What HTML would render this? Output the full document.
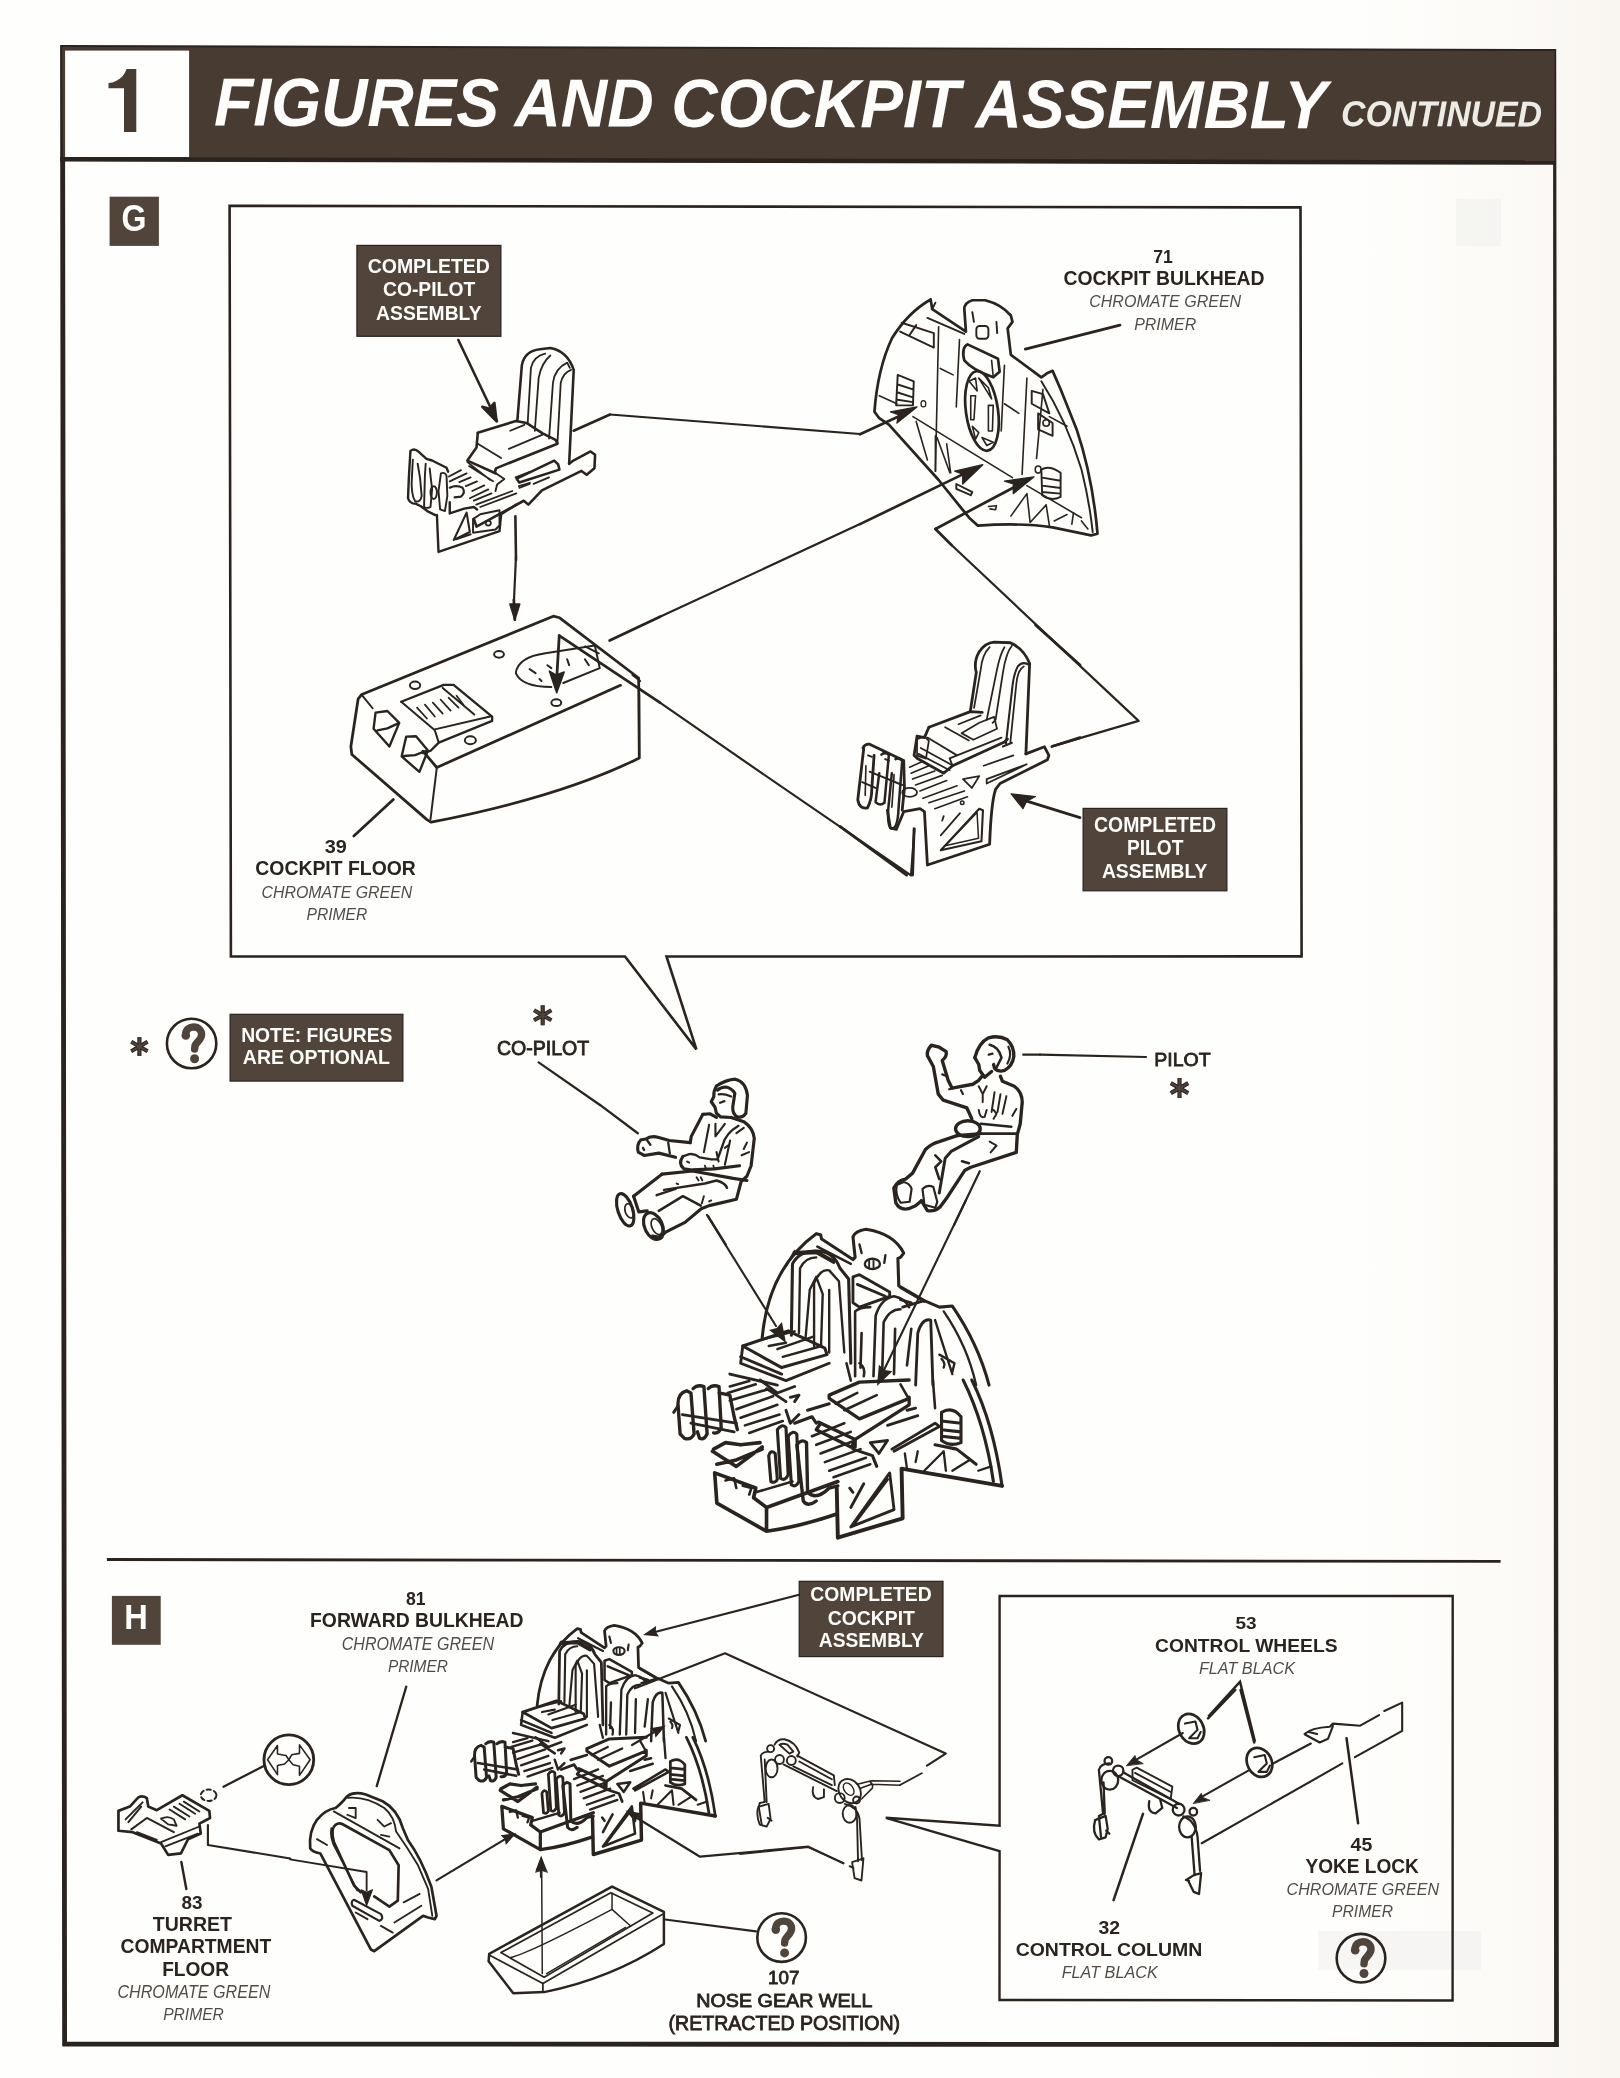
<!DOCTYPE html>
<html><head><meta charset="utf-8"><style>
html,body{margin:0;padding:0;background:#fefefc;overflow:hidden;}
svg{display:block;font-family:"Liberation Sans",sans-serif;will-change:transform;}
</style></head><body>
<svg width="1620" height="2078" viewBox="0 0 1620 2078">
<rect width="1620" height="2078" fill="#fefefc"/>
<defs><linearGradient id="wg" x1="0" x2="1" y1="0" y2="0"><stop offset="0" stop-color="#fefefc" stop-opacity="0"/><stop offset="1" stop-color="#f9f5f0"/></linearGradient></defs><rect x="1300" y="0" width="320" height="2078" fill="url(#wg)"/>
<rect x="1456" y="199" width="45" height="47" fill="#ededec" opacity="0.45"/>
<rect x="1318" y="1931" width="163" height="39" fill="#f1f0ee" opacity="0.6"/>
<path fill="#2a231e" fill-rule="evenodd" d="M60.1,45.1 L1556.2,49.1 L1558.9,2046.9 L62.2,2046.5 Z M65.1,161 L1553.1,164 L1554.1,2042 L67,2041.7 Z"/>
<path fill="#483c32" d="M62,47 L1554.5,51 L1554.5,163 L63,160 Z"/>
<path fill="#2a231e" d="M60.1,157 L1556,160.3 L1556,164.8 L60.1,161.5 Z"/>
<rect x="65.1" y="50.6" width="124" height="106.4" fill="#fefefc"/>
<path fill="#483c32" d="M124,131.9 L136.3,131.9 L136.3,68.9 L126.5,68.9 Q124,76.5 117,80.5 Q112,83 108.5,83 L108.5,88.3 L124,88.3 Z"/>
<g transform="rotate(0.15 214 125.5)"><text x="214" y="125.5" font-size="68" font-weight="bold" font-style="italic" fill="#fdfdfb" textLength="1113" lengthAdjust="spacingAndGlyphs">FIGURES AND COCKPIT ASSEMBLY</text></g>
<g transform="rotate(0.15 1342 126)"><text x="1341" y="126" font-size="36" font-weight="bold" font-style="italic" fill="#ecebe6" textLength="201" lengthAdjust="spacingAndGlyphs">CONTINUED</text></g>
<rect x="109.6" y="196.7" width="49.3" height="49.2" fill="#51443a"/>
<text x="133.9" y="230.9" text-anchor="middle" font-size="36.5" font-weight="bold" fill="#fdfdfb" textLength="25" lengthAdjust="spacingAndGlyphs">G</text>
<rect x="111.9" y="1595.9" width="48.8" height="48.9" fill="#51443a"/>
<text x="136.1" y="1629.1" text-anchor="middle" font-size="35.5" font-weight="bold" fill="#fdfdfb" textLength="23.5" lengthAdjust="spacingAndGlyphs">H</text>
<path fill="none" stroke="#2a231e" stroke-width="2.6" d="M625,956.5 L230.9,956.5 L229.6,205.8 L1300.5,207.4 L1301.6,956.4 L666.5,956.5 L696.4,1049.4 Z"/>
<rect x="356.9" y="245.4" width="144" height="90.9" fill="#51443a" stroke="#2a231e" stroke-width="1.2"/>
<rect x="1083.1" y="808.4" width="143.8" height="82.4" fill="#51443a" stroke="#2a231e" stroke-width="1.2"/>
<rect x="230.1" y="1014.3" width="172.8" height="66.8" fill="#51443a" stroke="#2a231e" stroke-width="1.2"/>
<rect x="799.2" y="1581.3" width="143.8" height="75.3" fill="#51443a" stroke="#2a231e" stroke-width="1.2"/>
<path fill="#2a231e" d="M106.9,1558.1 L1500.6,1560 L1500.6,1562.8 L106.9,1561 Z"/>
<path fill="none" stroke="#2a231e" stroke-width="2.4" d="M999.6,1825.8 L999.6,1596 L1452.7,1596 L1452.6,2000.5 L999.5,2000 L999.6,1851.1 L885.8,1817.8 Z"/>
<circle cx="191.6" cy="1043.5" r="24.7" fill="none" stroke="#2a231e" stroke-width="2.6"/><g transform="translate(191.6,1043.5)"><path d="M-6,-8.5 C-6,-14.5 -1.5,-16.5 2,-16.5 C7,-16.5 10,-13 10,-9 C10,-4 5,-1.5 3.5,2 L3,5.5" fill="none" stroke="#51443a" stroke-width="7.4" stroke-linecap="round" stroke-linejoin="round"/><circle cx="-5.8" cy="-8" r="4.3" fill="#51443a"/><circle cx="3" cy="15.3" r="4.5" fill="#51443a"/></g>
<circle cx="781.6" cy="1937.6" r="24.3" fill="none" stroke="#2a231e" stroke-width="2.6"/><g transform="translate(781.6,1937.6)"><path d="M-6,-8.5 C-6,-14.5 -1.5,-16.5 2,-16.5 C7,-16.5 10,-13 10,-9 C10,-4 5,-1.5 3.5,2 L3,5.5" fill="none" stroke="#51443a" stroke-width="7.4" stroke-linecap="round" stroke-linejoin="round"/><circle cx="-5.8" cy="-8" r="4.3" fill="#51443a"/><circle cx="3" cy="15.3" r="4.5" fill="#51443a"/></g>
<circle cx="1361" cy="1958.2" r="24.3" fill="none" stroke="#2a231e" stroke-width="2.6"/><g transform="translate(1361,1958.2)"><path d="M-6,-8.5 C-6,-14.5 -1.5,-16.5 2,-16.5 C7,-16.5 10,-13 10,-9 C10,-4 5,-1.5 3.5,2 L3,5.5" fill="none" stroke="#51443a" stroke-width="7.4" stroke-linecap="round" stroke-linejoin="round"/><circle cx="-5.8" cy="-8" r="4.3" fill="#51443a"/><circle cx="3" cy="15.3" r="4.5" fill="#51443a"/></g>
<path d="M139.4,1037.1 L139.4,1056.1 M147.6,1041.8 L131.2,1051.3 M147.6,1051.3 L131.2,1041.8 " stroke="#2a231e" stroke-width="4.2" fill="none"/><path d="M139.4,1037.1 L139.4,1056.1 M147.6,1041.8 L131.2,1051.3 M147.6,1051.3 L131.2,1041.8 " stroke="#51443a" stroke-width="2" fill="none"/>
<path d="M542.7,1005.3 L542.7,1025.3 M551.4,1010.3 L534.0,1020.3 M551.4,1020.3 L534.0,1010.3 " stroke="#2a231e" stroke-width="4.2" fill="none"/><path d="M542.7,1005.3 L542.7,1025.3 M551.4,1010.3 L534.0,1020.3 M551.4,1020.3 L534.0,1010.3 " stroke="#51443a" stroke-width="2" fill="none"/>
<path d="M1179.5,1078.1 L1179.5,1098.1 M1188.2,1083.1 L1170.8,1093.1 M1188.2,1093.1 L1170.8,1083.1 " stroke="#2a231e" stroke-width="4.2" fill="none"/><path d="M1179.5,1078.1 L1179.5,1098.1 M1188.2,1083.1 L1170.8,1093.1 M1188.2,1093.1 L1170.8,1083.1 " stroke="#51443a" stroke-width="2" fill="none"/>
<g transform="translate(860,285) scale(0.16049)" fill="none" stroke="#2a231e" stroke-width="17" stroke-linejoin="round" stroke-linecap="round">
<path d="M440,90 Q300,170 200,330 Q110,520 90,790 L120,830 L180,870 L490,1215 L635,1395 L680,1450 L735,1500 Q1000,1480 1200,1510 L1440,1560 L1480,1550 Q1450,1200 1350,900 L1250,650 L1200,535 L1165,550 L1130,575 L940,435 L920,270 L950,230 L940,190 Q880,120 780,95 L700,95 Q650,110 650,150 L660,290 L450,150 Z"/>
<path d="M420,205 L650,305" stroke-width="12"/>
<path d="M1130,600 Q1290,850 1380,1150 Q1430,1350 1450,1540" stroke-width="12"/>
<path d="M450,150 L470,110" stroke-width="12"/>
<path d="M490,260 L470,1160 M620,340 L600,760 M1040,580 L1010,1180 M900,500 L880,910 M1140,650 L1100,1080" stroke-width="10"/>
<path d="M700,170 L710,230 M850,230 L855,300" stroke-width="12"/>
<rect x="725" y="255" width="75" height="80" rx="20" stroke-width="12"/>
<path d="M670,370 L860,460 L870,540 L830,575 Q700,530 650,470 Q630,390 670,370 Z"/>
<path d="M820,470 L830,570" stroke-width="10"/>
<ellipse cx="760" cy="785" rx="100" ry="250" transform="rotate(-8 760 785)"/>
<path d="M690,690 L720,690 L710,840 L690,840 Z M800,750 L830,750 L825,910 L800,910 Z M680,600 L720,580 L730,660 Z M740,580 L800,640 L820,710 Z M700,880 L740,920 L720,960 Z M760,950 L790,1000 L830,980 Z" stroke-width="10"/>
<path d="M235,560 L335,600 L330,750 L225,750 Z M235,620 L330,650 M235,670 L330,700 M235,715 L330,730" stroke-width="12"/>
<path d="M1130,1150 Q1180,1120 1250,1170 L1250,1320 Q1190,1350 1135,1310 Z M1135,1200 L1250,1220 M1135,1250 L1250,1265 M1135,1290 L1250,1300" stroke-width="12"/>
<ellipse cx="1110" cy="1150" rx="18" ry="22" stroke-width="10"/>
<path d="M260,235 L460,300 L460,390 L250,290 M350,250 L310,310" stroke-width="12"/>
<path d="M1070,660 L1140,680 L1180,800 L1070,740 Z M1110,800 L1200,860 L1200,940 L1110,900 Z" stroke-width="12"/>
<circle cx="1160" cy="860" r="20" stroke-width="10"/>
<ellipse cx="395" cy="740" rx="15" ry="20" stroke-width="8"/>
<path d="M120,690 L230,740 M330,820 L950,1200 M500,520 L580,560 M900,740 L990,800 M1180,820 L1290,880 M1040,1250 L1380,1450" stroke-width="10"/>
<path d="M350,850 L420,1090 M480,950 L560,1170 M470,940 L470,1160 M540,990 L565,1170" stroke-width="10"/>
<path d="M940,1440 L1040,1300 L1060,1480 L1160,1370 L1180,1500 M1210,1470 L1290,1430 M1320,1490 L1330,1420 M1380,1470 L1420,1520" stroke-width="10"/>
<path d="M600,1240 L700,1290 L690,1310 L600,1270 Z" stroke-width="12"/>
<path d="M800,1380 L850,1375 L845,1400 L810,1395" stroke-width="10"/>
<path d="M0,930 L240,820"/>
<path d="M355,760 L190,790 L240,808 L230,860 Z" fill="#2a231e" stroke-width="8"/>
<path d="M0,1490 L640,1180"/>
<path d="M765,1120 L590,1160 L640,1178 L640,1240 Z" fill="#2a231e" stroke-width="8"/>
<path d="M470,1520 L960,1260"/>
<path d="M1085,1195 L900,1222 L955,1240 L955,1300 Z" fill="#2a231e" stroke-width="8"/>
<path d="M470,1520 L570,1620"/>
<path d="M1030,400 L1620,250"/>
</g>
<g transform="translate(400,340) scale(0.12963)" fill="none" stroke="#2a231e" stroke-width="20" stroke-linejoin="round" stroke-linecap="round">
<path d="M905,625 L940,195 Q960,85 1080,72 L1160,62 Q1290,85 1340,230 L1305,955"/>
<path d="M985,640 L1010,215 Q1030,125 1120,105" stroke-width="14"/>
<path d="M1040,700 L1070,290 Q1090,180 1160,120" stroke-width="14"/>
<path d="M1150,760 L1180,330 Q1195,220 1290,175 L1310,215" stroke-width="14"/>
<path d="M1215,790 L1240,330 Q1260,250 1320,230" stroke-width="14"/>
<path d="M600,715 L895,625 L975,640 L1100,720 L1200,770 L1215,800 L740,990 L735,1010"/>
<path d="M600,718 L590,830 L540,900 L520,930 L740,1030"/>
<path d="M600,800 L780,910" stroke-width="14"/>
<path d="M840,840 L1100,730" stroke-width="14"/>
<path d="M850,700 L960,655" stroke-width="14"/>
<path d="M1305,955 L1330,935 L1470,860 L1505,885 L1500,990 L1440,1040 L1400,1010 L1095,1160 L990,1270 L955,1240 L590,1440 L570,1380"/>
<path d="M900,1070 L1190,930 L1220,960 L1230,1000 L920,1100 Z"/>
<path d="M1030,1110 L1150,1060 M920,1140 L1000,1110" stroke-width="14"/>
<path d="M1340,700 L1620,575"/>
<path d="M450,0 L748,625"/>
<path d="M745,628 L635,515 L690,530 L728,485 Z" fill="#2a231e"/>
<path d="M890,1360 L895,1697"/>
</g>
<g transform="translate(400,430) scale(0.080247)" fill="none" stroke="#2a231e" stroke-width="30" stroke-linejoin="round" stroke-linecap="round">
<path d="M130,260 Q180,220 230,270 L330,360 L400,380 L580,470 L600,520 M130,260 L110,600 L100,850 Q120,920 200,920 L260,950 L340,1010 L440,1060"/>
<path d="M160,370 L150,560 Q130,800 190,890 Q260,900 270,820 L250,600 L220,420" stroke-width="24"/>
<path d="M320,420 L310,580 L300,960 Q330,980 380,960 L400,740 L370,480" stroke-width="24"/>
<path d="M510,540 Q560,520 580,570 L590,820 L560,1010 L500,990 L480,760 Z" stroke-width="24"/>
<ellipse cx="420" cy="780" rx="40" ry="80" stroke-width="24"/>
<path d="M620,720 Q700,680 780,720 Q820,780 760,830 L680,840" stroke-width="26"/>
<path d="M610,580 L760,500 M620,640 L830,540 M740,650 L880,590 M820,700 L960,640 M900,760 L1050,690 M870,850 L1100,740 M920,880 L1140,790 M950,930 L1400,760 M1000,960 L1450,790" stroke-width="22"/>
<path d="M840,400 L1120,620 M860,450 L1160,640" stroke-width="22"/>
<path d="M460,1060 L480,1520 L1240,1260 L1260,1050 L1450,930 M620,900 L620,1040 L800,980 L920,960 L960,990"/>
<path d="M670,1370 L830,1030 L870,1270 Z M700,1360 L880,1300" stroke-width="26"/>
<path d="M910,1110 L1000,1050 L1240,1000 L1240,1190 L1190,1240 L910,1280 Z" stroke-width="24"/>
<circle cx="1100" cy="1160" r="32" stroke-width="22"/>
<path d="M1180,530 L1300,610 L1210,680 L1190,760" stroke-width="24"/>
<path d="M1440,590 L1620,520 M1480,700 L1620,660" stroke-width="22"/>
</g>
<g transform="translate(340,600) scale(0.19753)" fill="none" stroke="#2a231e" stroke-width="14" stroke-linejoin="round" stroke-linecap="round">
<path d="M110,478 L1080,82 L1112,90 L1512,395 L1515,800 L1490,812 Q1100,1000 462,1125 L440,1112 L60,782 L55,742 L92,500 Z"/>
<path d="M420,765 L490,848 L1420,432"/>
<path d="M490,850 L458,1110" stroke-width="10"/>
<path d="M1515,480 L1515,800" stroke-width="10"/>
<path d="M110,480 L165,548" stroke-width="10"/>
<path d="M310,515 L525,430 L575,430 L770,590 L770,612 L500,722 L460,762 L420,775" stroke-width="12"/>
<path d="M310,515 L480,660 L500,722 M520,445 L680,580 M480,655 L760,590" stroke-width="10"/>
<path d="M390,545 L440,600 M430,530 L480,590 M470,520 L520,575 M510,505 L560,560 M550,495 L600,545 M590,485 L625,530" stroke-width="9"/>
<path d="M180,570 L240,562 L300,622 L250,742 L170,652 Z M190,660 L240,650 L300,622" stroke-width="12"/>
<path d="M335,692 L385,690 L445,762 L402,870 L312,792 Z M325,790 L380,785 L440,762" stroke-width="12"/>
<ellipse cx="805" cy="275" rx="25" ry="17" stroke-width="10"/>
<ellipse cx="380" cy="432" rx="26" ry="19" stroke-width="10"/>
<ellipse cx="660" cy="710" rx="28" ry="20" stroke-width="10"/>
<ellipse cx="1095" cy="520" rx="25" ry="17" stroke-width="10"/>
<path d="M1070,440 Q920,440 890,370 Q900,290 1040,270 L1290,230 L1315,345 L1130,420" stroke-width="10"/>
<path d="M960,350 L990,370 M1010,400 L1020,410 M1150,300 L1160,330 M1240,300 L1260,330 M1050,330 L1070,345" stroke-width="10"/>
<path d="M1110,180 L1620,520"/>
<path d="M1110,180 L1097,400"/>
<path d="M1097,470 L1060,360 L1095,380 L1135,365 Z" fill="#2a231e" stroke-width="8"/>
<path d="M1365,205 L1620,85"/>
<path d="M880,0 L885,100"/>
<path d="M885,100 L860,20 L910,20 Z" fill="#2a231e" stroke-width="8"/>
<path d="M70,1195 L270,1010"/>
<path d="M1240,235 L1310,270 M1480,380 L1520,410" stroke-width="10"/>
</g>
<g transform="translate(840,625) scale(0.148148)" fill="none" stroke="#2a231e" stroke-width="19" stroke-linejoin="round" stroke-linecap="round">
<path d="M880,580 L920,320 Q900,250 940,180 Q980,120 1040,115 L1150,120 Q1240,160 1280,260 L1255,870"/>
<path d="M1280,270 Q1230,240 1200,280 Q1170,330 1160,450 L1120,800" stroke-width="14"/>
<path d="M1240,280 Q1200,300 1190,400 L1150,790" stroke-width="12"/>
<path d="M1110,150 Q1080,200 1060,300 L990,640" stroke-width="12"/>
<path d="M1160,140 Q1120,190 1100,320 L1050,640 L1030,660" stroke-width="12"/>
<path d="M1010,150 Q960,200 950,300 L905,560" stroke-width="12"/>
<path d="M600,690 L880,585 L960,590"/>
<path d="M820,730 L940,660 L1040,620 L1060,700 L900,775 Z" stroke-width="12"/>
<path d="M710,690 L870,780 M800,670 L950,610" stroke-width="12"/>
<path d="M600,690 L570,760 L520,750 L500,880 L520,900 L700,1000 L760,950 L1110,790 L1130,770"/>
<path d="M530,870 L740,980 M545,830 L755,945 M590,760 L790,880" stroke-width="12"/>
<path d="M760,950 L740,900 L1090,760" stroke-width="12"/>
<path d="M1255,870 L1380,822 L1410,880 L1400,910 L1080,1070 L1050,1110 Q1020,1200 1010,1480 L590,1620 L570,1260 L540,1240 L430,1260 L380,1380 L340,1370 L320,1250"/>
<path d="M680,1520 L940,1240 L965,1250 L955,1460 Z" stroke-width="14"/>
<path d="M710,1490 L925,1265 L935,1440 Z" stroke-width="10"/>
<path d="M680,1420 L810,1270 M690,1320 L700,1290" stroke-width="12"/>
<path d="M970,950 L1170,880 M990,1070 L1260,940 L990,1040 Z" stroke-width="12"/>
<path d="M830,1040 L940,1020 L890,1100 Z" stroke-width="12"/>
<path d="M1100,820 L1160,795" stroke-width="14"/>
<path d="M155,830 Q170,800 200,805 L430,915 L435,1100 L420,1250"/>
<path d="M160,835 L120,1180 Q130,1245 185,1235 Q215,1180 215,1100 L230,880"/>
<path d="M280,875 Q300,855 330,875 L300,1200 Q270,1225 240,1195 L265,1000" stroke-width="17"/>
<path d="M375,905 Q395,895 420,915 L395,1240 Q390,1370 350,1375 Q320,1370 325,1250 L350,1000" stroke-width="17"/>
<path d="M190,880 L215,890 M305,905 L330,915 M200,990 L420,1080 M150,1060 L240,1100" stroke-width="13"/>
<path d="M175,950 L170,1150 M365,1010 L350,1230" stroke-width="11"/>
<path d="M470,960 L560,920 M480,1000 L600,950 M490,1040 L640,985 M510,1080 L690,1015 M540,1120 L720,1050 M560,1170 L790,1085 M600,1200 L840,1120 M640,1240 L860,1160" stroke-width="11"/>
<ellipse cx="470" cy="1130" rx="50" ry="30" stroke-width="12"/>
<path d="M520,770 L570,752 L600,782 L580,902 L520,882 Z" stroke-width="12"/>
<circle cx="825" cy="1200" r="12" stroke-width="10"/>
<path d="M1320,0 L1620,270"/>
<path d="M1430,820 L1620,760"/>
<path d="M1620,1300 L1250,1185"/>
<path d="M1155,1140 L1235,1240 L1260,1190 L1320,1158 Z" fill="#2a231e" stroke-width="8"/>
<path d="M0,1360 L450,1688"/>
<path d="M500,1375 L490,1688"/>
</g>
<path d="M610,414.5 L860,434 M660,616.8 L860,524.1 M951.5,545 L1138.6,720.9 L1052,746.4 M660,702.7 L760,771.9 L911,875.4 L914.5,828" fill="none" stroke="#2a231e" stroke-width="2.2" stroke-linejoin="round"/>
<g transform="translate(464.88,1622.17) scale(0.16053)" fill="none" stroke="#2a231e" stroke-width="17.2" stroke-linejoin="round" stroke-linecap="round">
<path d="M450,520 Q480,200 700,40 L720,45 L725,65 L870,160 L880,150 L870,55 Q880,28 930,20 Q1060,40 1105,130 L1090,150 L1078,155 L1082,282 L1200,350 L1270,380 L1330,375 Q1450,550 1500,741"/>
<path d="M705,100 L860,180 M1090,290 L1200,355 M1290,400 Q1400,560 1440,741" stroke-width="13.2"/>
<path d="M560,190 L600,120" stroke-width="11.9"/>
<path d="M585,510 L590,180 Q620,120 700,120 Q780,120 810,200 L850,250 L860,640"/>
<path d="M620,500 L625,200 Q650,150 700,150 M690,560 L690,270 Q720,200 760,210 L805,260 L830,590 M760,590 L760,300" stroke-width="13.2"/>
<path d="M650,530 L670,300 L700,240 L730,320 L722,560" stroke-width="13.2"/>
<path d="M600,130 L700,125 L780,170" stroke-width="23.8"/>
<path d="M360,560 L570,490 L740,570 L750,600 L540,660 Z"/>
<path d="M470,525 L600,492 M520,575 L690,515 M545,610 L725,560 M480,560 L560,545" stroke-width="13.2"/>
<path d="M360,560 L350,640 L560,720 L760,640 M300,690 L520,741 M350,610 L540,690" stroke-width="15.8"/>
<ellipse cx="960" cy="180" rx="35" ry="24" stroke-width="13.2"/>
<path d="M945,165 L945,195 M965,165 L965,195" stroke-width="10.6"/>
<path d="M900,90 L910,130 M1020,140 L1015,175" stroke-width="13.2"/>
<path d="M870,240 L900,230 L1040,310 L1040,330 L900,380 L870,360 Z M890,275 L1020,330" stroke-width="15.8"/>
<path d="M965,700 L975,420 Q1000,340 1060,330 Q1110,340 1130,380 M1005,700 L1012,450 Q1040,390 1090,390 M1060,690 L1065,480 M1120,650 L1140,480" stroke-width="14.5"/>
<path d="M1160,741 L1170,500 Q1190,430 1230,440 L1240,741" stroke-width="15.8"/>
<path d="M880,400 Q900,380 950,380 M880,400 L880,700 M910,500 L905,660 M840,640 L860,720 M900,640 Q930,660 920,700" stroke-width="14.5"/>
<path d="M1250,440 L1330,690 M1270,600 L1340,640 L1330,680 M1280,620 Q1300,640 1290,660" stroke-width="13.2"/>
<path d="M1100,380 L1200,350 M1090,345 L1140,360" stroke-width="15.8"/>
</g>
<g transform="translate(464.88,1737.34) scale(0.16053)" fill="none" stroke="#2a231e" stroke-width="18.7" stroke-linejoin="round" stroke-linecap="round">
<path d="M230,430 L240,570 L470,700 Q620,680 795,620 M470,700 L470,590 L800,470 M230,430 L420,500 L410,545 L470,590" stroke-width="20.2"/>
<path d="M420,520 L590,470 M280,465 L320,455 L330,500 M360,490 L400,500 L390,530" stroke-width="14.4"/>
<path d="M795,500 L800,730 L1100,640 L1095,410 L1560,490" stroke-width="21.6"/>
<path d="M860,680 L1040,430 L1060,600 Z M880,660 L1030,460" stroke-width="15.8"/>
<path d="M860,590 L920,480 M855,500 L870,520" stroke-width="15.8"/>
<path d="M950,290 L1030,280 L990,340 Z M1050,320 L1250,200 L1270,215 L1060,330 M1030,210 L1170,165 M1120,140 L1160,130" stroke-width="15.8"/>
<path d="M880,280 Q860,300 870,320 L960,350 L980,400 M1250,300 L1350,320 L1440,390" stroke-width="17.3"/>
<path d="M1560,490 Q1520,200 1420,0 M1520,470 Q1480,200 1380,0" stroke-width="17.3"/>
<path d="M1110,340 L1120,410 M1170,330 L1160,380 M1200,420 L1290,330 L1300,420 M1330,420 L1410,370 M1450,420 L1510,400" stroke-width="13.0"/>
<path d="M1280,150 Q1330,120 1370,170 L1370,290 Q1320,310 1280,280 Z M1280,190 L1370,200 M1280,230 L1370,240 M1280,260 L1370,270" stroke-width="17.3"/>
<path d="M1250,130 L1240,0 M1090,20 L1130,90" stroke-width="14.4"/>
<path d="M60,110 Q60,60 100,50 L120,60 L135,250 Q120,280 90,270 L70,250 Z" stroke-width="18.7"/>
<path d="M130,40 Q150,20 180,30 L195,250 Q180,280 160,270 L150,240 M200,40 Q220,20 250,30 L260,220 Q250,250 225,245 M250,60 L300,70 L320,170 L335,230" stroke-width="18.7"/>
<path d="M80,160 L330,200 M120,200 L320,240 M60,120 L40,150" stroke-width="15.8"/>
<path d="M290,60 L420,20 M300,95 L470,45 M330,135 L500,75 M350,175 L520,115 M370,210 L530,160 M390,245 L545,190 M300,30 L390,5" stroke-width="14.4"/>
<path d="M220,330 L330,400 L450,310 M240,390 L330,370 L450,320 M350,300 L440,290 M225,320 L280,290 L350,300" stroke-width="20.2"/>
<path d="M480,350 Q490,320 510,340 L520,460 Q510,480 490,470 Z" stroke-width="17.3"/>
<path d="M520,230 Q540,200 560,220 L570,440 Q555,470 535,455 Z" stroke-width="17.3"/>
<path d="M570,260 Q590,230 610,250 L620,470 Q605,500 585,485 Z" stroke-width="17.3"/>
<path d="M610,300 Q630,270 655,290 L660,520 Q700,560 760,500 L800,490 M610,300 L640,560 Q660,590 700,560" stroke-width="18.7"/>
<path d="M680,260 L830,200 M700,300 L860,240 M720,340 L880,280 M740,380 L905,320 M760,420 L930,360 M780,450 L950,390" stroke-width="14.4"/>
<path d="M760,70 L900,10 L1130,0 M710,195 L880,275 L1130,115 L1130,80 M760,85 L900,180 L1130,85 M760,70 L760,85 M720,200 L700,230 L860,310 M880,275 L880,310" stroke-width="18.7"/>
<path d="M790,110 L890,60 M830,140 L980,70" stroke-width="14.4"/>
<path d="M440,0 L520,60 L600,30 M470,40 L560,100 M580,80 L620,70 L600,100 M560,140 L580,200 L620,160" stroke-width="15.8"/>
<path d="M600,200 L680,170 L700,200 M660,140 L760,110" stroke-width="17.3"/>
</g>
<g transform="translate(1080,1690) scale(0.20988)" fill="none" stroke="#2a231e" stroke-width="11" stroke-linejoin="round" stroke-linecap="round">
<path d="M100,700 L90,600 L110,590 L90,380 Q100,350 140,350 M118,590 L112,440"/>
<path d="M72,620 Q55,680 90,712 L122,702 L132,662 L122,600 Z M125,670 L140,685"/>
<circle cx="135" cy="338" r="18"/><circle cx="182" cy="385" r="25"/>
<ellipse cx="142" cy="430" rx="40" ry="45"/>
<path d="M185,412 L462,562 M205,392 L472,542"/>
<path d="M250,380 L270,370 L440,460 L432,520 L250,430 Z M262,395 L430,485" stroke-width="9"/>
<path d="M330,530 Q320,585 360,588 L392,562 L382,522"/>
<circle cx="470" cy="570" r="28"/><circle cx="540" cy="580" r="18"/>
<ellipse cx="512" cy="652" rx="40" ry="50"/>
<path d="M492,602 Q550,622 560,700 L572,862 M532,700 L546,882"/>
<path d="M512,902 L542,962 L567,972 L577,872 L542,882 Z M505,905 L520,910"/>
<ellipse cx="530" cy="185" rx="58" ry="74" transform="rotate(-28 530 185)" stroke-width="13"/>
<path d="M500,160 L550,150 L560,190 L520,230 L560,230 L575,200" stroke-width="10"/>
<ellipse cx="855" cy="345" rx="58" ry="72" transform="rotate(-28 855 345)" stroke-width="13"/>
<path d="M830,320 L880,310 L890,350 L850,390 L890,390 L905,360" stroke-width="10"/>
<path d="M1070,210 Q1100,180 1190,175 L1205,160 L1335,170 L1425,120 M1072,212 L1142,250 L1182,232 L1205,172 M1090,200 L1130,210" stroke-width="10"/>
<path d="M490,205 L262,335" stroke-width="10"/>
<path d="M222,360 L262,312 L268,332 L300,350 Z" fill="#2a231e" stroke-width="4"/>
<path d="M800,385 L582,508" stroke-width="10"/>
<path d="M540,540 L578,492 L585,512 L618,525 Z" fill="#2a231e" stroke-width="4"/>
<path d="M920,350 L1100,255" stroke-width="10"/>
<path d="M610,135 L740,0 M830,250 L765,0" stroke-width="12"/>
<path d="M1270,230 L1325,635 M300,590 L160,1001" stroke-width="12"/>
<path d="M580,730 L1250,350 M1310,320 L1535,195 L1535,60 L1450,100" stroke-width="10"/>
</g>
<path d="M1208.3,1716.7 L1240,1681.7 L1255,1741.7" fill="none" stroke="#2a231e" stroke-width="2.5" stroke-linejoin="miter"/>
<g transform="translate(100,1720) scale(0.14198)" fill="none" stroke="#2a231e" stroke-width="19" stroke-linejoin="round" stroke-linecap="round">
<path d="M130,640 L210,610 L270,545 Q300,530 330,550 L340,610 L400,635 L580,530 L770,640 L775,690 L700,730 L710,800 L620,840 L570,940 L480,950 L430,870 L230,790 L130,780 Z"/>
<path d="M220,770 L330,690 L520,790 M180,700 L300,580 M200,720 L290,610 M260,790 L400,845" stroke-width="14"/>
<path d="M490,630 L600,700 M520,610 L630,680 M560,590 L670,660 M590,575 L700,645" stroke-width="13"/>
<path d="M430,695 Q480,670 520,700 L540,745 L480,735 Z" stroke-width="13"/>
<path d="M430,860 L700,750 M460,890 L690,800" stroke-width="13"/>
<ellipse cx="765" cy="530" rx="55" ry="40" stroke-width="14" stroke-dasharray="30 22"/>
<path d="M870,470 L1150,325" stroke-width="16"/>
<circle cx="1330" cy="280" r="175" stroke-width="20"/>
<path d="M1180,280 L1250,180 L1250,240 L1310,250 L1330,280 L1300,310 L1250,320 L1250,385 Z M1480,280 L1405,175 L1405,235 L1350,245 L1330,280 L1360,315 L1405,325 L1405,390 Z" stroke-width="11"/>
<path d="M760,740 L760,880 L1340,975" stroke-width="15"/>
<path d="M573,1000 L608,1190" stroke-width="17"/>
</g>
<g transform="translate(290,1680) scale(0.16843)" fill="none" stroke="#2a231e" stroke-width="16" stroke-linejoin="round" stroke-linecap="round">
<path d="M120,1000 Q110,900 160,830 Q210,770 270,760 Q300,740 340,690 Q380,660 450,680 L550,720 Q640,770 670,880 L700,950 Q780,1060 840,1230 L870,1400 L860,1420 L820,1410 L790,1400 L500,1610 L480,1600 L180,1030 Q130,1020 120,1000 Z"/>
<path d="M345,700 Q450,690 560,760 Q620,810 630,900 Q700,1000 760,1100 L820,1240 L845,1400" stroke-width="11"/>
<path d="M270,860 Q240,880 260,960 L380,1220 L420,1260 M500,1285 L590,1345 L640,1310 L645,1100 L590,1010 L310,855 Q290,845 270,860"/>
<path d="M245,880 Q235,940 270,1000 L400,1250" stroke-width="11"/>
<path d="M260,780 L650,1000" stroke-width="11"/>
<path d="M340,800 L390,820 L390,760 L350,760 M520,830 L560,870 L600,850 M540,920 L590,930" stroke-width="11"/>
<path d="M160,945 L220,980 M675,1320 L770,1270 M620,1440 L780,1340 M540,1460 L610,1500 M390,1380 L460,1420" stroke-width="11"/>
<path d="M380,1305 L540,1390 Q560,1420 530,1430 L370,1340 Q360,1310 380,1305 Z" stroke-width="13"/>
<path d="M0,1065 L455,1140 L455,1250" stroke-width="11"/>
<path d="M455,1340 L422,1245 L455,1260 L490,1245 Z" fill="#2a231e" stroke-width="6"/>
<path d="M690,40 L515,630" stroke-width="14"/>

</g>
<g transform="translate(740,1720) scale(0.098765)" fill="none" stroke="#2a231e" stroke-width="19" stroke-linejoin="round" stroke-linecap="round">
<path d="M220,1060 L190,880 L200,840 L250,830 L210,360 Q230,320 290,320 M270,830 L250,400"/>
<path d="M185,880 Q160,960 200,1060 L270,1080 L310,1000 L290,850 Z M280,990 L320,1020"/>
<path d="M350,250 Q380,190 450,195 Q560,220 600,330 L580,370 M400,250 Q430,230 480,250 L540,320 L500,340 Z"/>
<circle cx="310" cy="290" r="35"/><circle cx="400" cy="400" r="45"/><circle cx="520" cy="410" r="45"/>
<ellipse cx="320" cy="490" rx="60" ry="90"/>
<path d="M440,450 L980,720 M580,360 L950,560 L960,660 M600,420 L930,600 M540,470 L930,660" />
<path d="M740,680 Q720,780 790,800 L850,780 L850,700"/>
<ellipse cx="1110" cy="720" rx="105" ry="130" transform="rotate(-35 1110 720)"/>
<ellipse cx="1100" cy="700" rx="45" ry="70" transform="rotate(-35 1100 700)" stroke-width="14"/>
<circle cx="1010" cy="790" r="50"/><circle cx="1180" cy="810" r="35"/>
<path d="M1060,850 Q1190,880 1210,1000 L1235,1420 M1170,880 Q1180,950 1185,1000 L1195,1430"/>
<ellipse cx="1110" cy="950" rx="70" ry="90"/>
<path d="M1135,1440 L1160,1600 L1230,1625 L1250,1400 Z M1110,1480 L1150,1500"/>
<path d="M1190,650 L1330,615 L1620,620 M1230,800 L1340,690 Q1350,650 1320,630 M1220,690 L1330,650 L1620,660" stroke-width="16"/>
<path d="M0,1360 L690,1290 L1050,1450" stroke-width="13"/>
</g>
<g transform="translate(475,1860) scale(0.123457)" fill="none" stroke="#2a231e" stroke-width="20" stroke-linejoin="round" stroke-linecap="round">
<path d="M115,760 L1110,215 L1530,420 L1530,680 Q1100,960 560,1070 L310,1080 L110,820 Z"/>
<path d="M115,770 L550,1000 L1520,440 M550,1000 L550,1070" stroke-width="14"/>
<path d="M210,750 L1100,265 L1440,430 L560,950 Z" stroke-width="14"/>
<path d="M290,790 Q450,750 1110,400 L1260,535 M1110,270 L1110,400 M580,920 L1220,545" stroke-width="12"/>
<path d="M545,920 L540,80" stroke-width="12"/>
<path d="M540,0 L490,100 L540,85 L585,100 Z" fill="#2a231e" stroke-width="6"/>
</g>
<g fill="none" stroke="#2a231e" stroke-width="2.2" stroke-linecap="round" stroke-linejoin="round">
<path d="M541,1877 L541,1862"/><path d="M541.2,1855.6 L546.6,1870.6 L541.1,1868.8 L535.6,1870.6 Z" fill="#2a231e" stroke="none"/>
<path d="M436.5,1880.4 L506,1838.6"/><path d="M516.4,1833.0 L505.8,1844.9 L504.8,1839.2 L500.6,1835.2 Z" fill="#2a231e" stroke="none"/>
<path d="M635,1688.3 L725,1653.3 L945.7,1753.6 L927,1765.7"/>
<path d="M799,1594.7 L655,1632"/><path d="M643.0,1635.0 L656.1,1625.9 L655.8,1631.7 L658.9,1636.6 Z" fill="#2a231e" stroke="none"/>
<path d="M635,1816.7 L700,1856.7 L808.3,1846.7 L843.3,1863.3 M640,1817 L632,1812"/><path d="M625.5,1810.6 L641.3,1813.2 L637.0,1817.1 L635.9,1822.7 Z" fill="#2a231e" stroke="none"/>
<path d="M665,1919.5 L756,1931.3"/>
<path d="M632,1745 L656,1731"/><path d="M665.8,1725.6 L655.5,1737.8 L654.4,1732.2 L650.1,1728.3 Z" fill="#2a231e" stroke="none"/>
<path d="M900,1785 L921.7,1773.3" stroke-width="1.8"/>
</g>
<g transform="translate(665,1225) scale(0.21605)" fill="none" stroke="#2a231e" stroke-width="14.3" stroke-linejoin="round" stroke-linecap="round">
<path d="M450,520 Q480,200 700,40 L720,45 L725,65 L870,160 L880,150 L870,55 Q880,28 930,20 Q1060,40 1105,130 L1090,150 L1078,155 L1082,282 L1200,350 L1270,380 L1330,375 Q1450,550 1500,741"/>
<path d="M705,100 L860,180 M1090,290 L1200,355 M1290,400 Q1400,560 1440,741" stroke-width="11.0"/>
<path d="M560,190 L600,120" stroke-width="9.9"/>
<path d="M585,510 L590,180 Q620,120 700,120 Q780,120 810,200 L850,250 L860,640"/>
<path d="M620,500 L625,200 Q650,150 700,150 M690,560 L690,270 Q720,200 760,210 L805,260 L830,590 M760,590 L760,300" stroke-width="11.0"/>
<path d="M650,530 L670,300 L700,240 L730,320 L722,560" stroke-width="11.0"/>
<path d="M600,130 L700,125 L780,170" stroke-width="19.8"/>
<path d="M360,560 L570,490 L740,570 L750,600 L540,660 Z"/>
<path d="M470,525 L600,492 M520,575 L690,515 M545,610 L725,560 M480,560 L560,545" stroke-width="11.0"/>
<path d="M360,560 L350,640 L560,720 L760,640 M300,690 L520,741 M350,610 L540,690" stroke-width="13.2"/>
<ellipse cx="960" cy="180" rx="35" ry="24" stroke-width="11.0"/>
<path d="M945,165 L945,195 M965,165 L965,195" stroke-width="8.8"/>
<path d="M900,90 L910,130 M1020,140 L1015,175" stroke-width="11.0"/>
<path d="M870,240 L900,230 L1040,310 L1040,330 L900,380 L870,360 Z M890,275 L1020,330" stroke-width="13.2"/>
<path d="M965,700 L975,420 Q1000,340 1060,330 Q1110,340 1130,380 M1005,700 L1012,450 Q1040,390 1090,390 M1060,690 L1065,480 M1120,650 L1140,480" stroke-width="12.1"/>
<path d="M1160,741 L1170,500 Q1190,430 1230,440 L1240,741" stroke-width="13.2"/>
<path d="M880,400 Q900,380 950,380 M880,400 L880,700 M910,500 L905,660 M840,640 L860,720 M900,640 Q930,660 920,700" stroke-width="12.1"/>
<path d="M1250,440 L1330,690 M1270,600 L1340,640 L1330,680 M1280,620 Q1300,640 1290,660" stroke-width="11.0"/>
<path d="M1100,380 L1200,350 M1090,345 L1140,360" stroke-width="13.2"/>
</g>
<g transform="translate(665,1380) scale(0.21605)" fill="none" stroke="#2a231e" stroke-width="15.6" stroke-linejoin="round" stroke-linecap="round">
<path d="M230,430 L240,570 L470,700 Q620,680 795,620 M470,700 L470,590 L800,470 M230,430 L420,500 L410,545 L470,590" stroke-width="16.8"/>
<path d="M420,520 L590,470 M280,465 L320,455 L330,500 M360,490 L400,500 L390,530" stroke-width="12.0"/>
<path d="M795,500 L800,730 L1100,640 L1095,410 L1560,490" stroke-width="18.0"/>
<path d="M860,680 L1040,430 L1060,600 Z M880,660 L1030,460" stroke-width="13.2"/>
<path d="M860,590 L920,480 M855,500 L870,520" stroke-width="13.2"/>
<path d="M950,290 L1030,280 L990,340 Z M1050,320 L1250,200 L1270,215 L1060,330 M1030,210 L1170,165 M1120,140 L1160,130" stroke-width="13.2"/>
<path d="M880,280 Q860,300 870,320 L960,350 L980,400 M1250,300 L1350,320 L1440,390" stroke-width="14.4"/>
<path d="M1560,490 Q1520,200 1420,0 M1520,470 Q1480,200 1380,0" stroke-width="14.4"/>
<path d="M1110,340 L1120,410 M1170,330 L1160,380 M1200,420 L1290,330 L1300,420 M1330,420 L1410,370 M1450,420 L1510,400" stroke-width="10.8"/>
<path d="M1280,150 Q1330,120 1370,170 L1370,290 Q1320,310 1280,280 Z M1280,190 L1370,200 M1280,230 L1370,240 M1280,260 L1370,270" stroke-width="14.4"/>
<path d="M1250,130 L1240,0 M1090,20 L1130,90" stroke-width="12.0"/>
<path d="M60,110 Q60,60 100,50 L120,60 L135,250 Q120,280 90,270 L70,250 Z" stroke-width="15.6"/>
<path d="M130,40 Q150,20 180,30 L195,250 Q180,280 160,270 L150,240 M200,40 Q220,20 250,30 L260,220 Q250,250 225,245 M250,60 L300,70 L320,170 L335,230" stroke-width="15.6"/>
<path d="M80,160 L330,200 M120,200 L320,240 M60,120 L40,150" stroke-width="13.2"/>
<path d="M290,60 L420,20 M300,95 L470,45 M330,135 L500,75 M350,175 L520,115 M370,210 L530,160 M390,245 L545,190 M300,30 L390,5" stroke-width="12.0"/>
<path d="M220,330 L330,400 L450,310 M240,390 L330,370 L450,320 M350,300 L440,290 M225,320 L280,290 L350,300" stroke-width="16.8"/>
<path d="M480,350 Q490,320 510,340 L520,460 Q510,480 490,470 Z" stroke-width="14.4"/>
<path d="M520,230 Q540,200 560,220 L570,440 Q555,470 535,455 Z" stroke-width="14.4"/>
<path d="M570,260 Q590,230 610,250 L620,470 Q605,500 585,485 Z" stroke-width="14.4"/>
<path d="M610,300 Q630,270 655,290 L660,520 Q700,560 760,500 L800,490 M610,300 L640,560 Q660,590 700,560" stroke-width="15.6"/>
<path d="M680,260 L830,200 M700,300 L860,240 M720,340 L880,280 M740,380 L905,320 M760,420 L930,360 M780,450 L950,390" stroke-width="12.0"/>
<path d="M760,70 L900,10 L1130,0 M710,195 L880,275 L1130,115 L1130,80 M760,85 L900,180 L1130,85 M760,70 L760,85 M720,200 L700,230 L860,310 M880,275 L880,310" stroke-width="15.6"/>
<path d="M790,110 L890,60 M830,140 L980,70" stroke-width="12.0"/>
<path d="M440,0 L520,60 L600,30 M470,40 L560,100 M580,80 L620,70 L600,100 M560,140 L580,200 L620,160" stroke-width="13.2"/>
<path d="M600,200 L680,170 L700,200 M660,140 L760,110" stroke-width="14.4"/>
</g>
<g fill="none" stroke="#2a231e" stroke-width="2.1" stroke-linecap="round">
<path d="M706.8,1214.8 L776,1326"/>
<path d="M966,1200 L884,1370"/>
</g>
<path d="M786.0,1343.0 L769.1,1329.9 L776.7,1328.0 L781.9,1322.0 Z" fill="#2a231e" stroke="none"/>
<path d="M877.0,1386.0 L878.9,1364.7 L884.6,1370.1 L892.4,1371.2 Z" fill="#2a231e" stroke="none"/>
<g transform="translate(600,1065) scale(0.104938)" fill="none" stroke="#2a231e" stroke-width="30" stroke-linejoin="round" stroke-linecap="round">
<path d="M1110,200 Q1200,140 1290,135 Q1390,160 1405,290 L1390,460 Q1360,505 1310,495 Q1262,470 1265,400 L1285,270 Q1260,225 1200,210 Q1150,210 1120,240"/>
<path d="M1110,200 Q1080,250 1085,300 L1060,350 L1095,400 L1110,460 L1150,495 L1250,500"/>
<path d="M1130,280 Q1180,270 1250,300" stroke-width="20"/>
<path d="M1145,360 L1185,345" stroke-width="22"/>
<path d="M980,470 L1050,465 L1110,500"/>
<path d="M980,470 L870,680 L860,740"/>
<path d="M1250,500 L1370,540 Q1460,600 1470,700 L1440,960 L1400,1060 L1345,1110 L1300,1280 L1040,1340 L965,1370 L810,1500 L630,1590 L560,1640 L500,1630"/>
<path d="M860,740 L660,720 L560,690 Q480,670 440,705 L390,712 Q345,760 365,830 L420,862 L560,840 L720,880"/>
<path d="M650,740 L665,840" stroke-width="22"/>
<path d="M450,720 L480,760 M410,790 L420,810" stroke-width="22"/>
<path d="M790,870 Q740,940 800,990 L880,1000 L1090,990 L1330,960"/>
<path d="M790,870 L850,850 Q900,840 950,880 L1060,900 L1110,900" stroke-width="22"/>
<path d="M1000,960 L1010,990 M1080,960 L1090,990 M830,920 L850,930" stroke-width="18"/>
<path d="M1320,580 Q1200,650 1170,760 L1120,900" stroke-width="22"/>
<path d="M1240,720 L1190,950 M1400,740 L1370,800 M1350,860 L1420,830 M1300,650 L1370,600 M1230,760 L1190,790" stroke-width="20"/>
<path d="M1040,570 L990,830 M1100,560 L1100,680 L1190,560 M1110,830 L1130,920" stroke-width="20"/>
<path d="M590,1040 L880,1010 L1270,1080 L1400,1100"/>
<path d="M590,1040 L320,1250"/>
<path d="M610,1190 L1000,1130 L1110,1100 Q1190,1120 1210,1170" stroke-width="24"/>
<path d="M540,1240 L720,1180 M560,1390 L790,1250 L960,1340" stroke-width="24"/>
<path d="M920,1070 L940,1100 M960,1070 L975,1100 M730,1130 L745,1135 M990,1250 L970,1320 M1040,1300 L1060,1290" stroke-width="18"/>
<path d="M320,1250 L370,1400 L450,1390"/>
<ellipse cx="240" cy="1380" rx="70" ry="160" transform="rotate(-18 240 1380)"/>
<ellipse cx="280" cy="1390" rx="40" ry="70" transform="rotate(-18 280 1390)" stroke-width="16"/>
<ellipse cx="510" cy="1535" rx="85" ry="135" transform="rotate(-25 510 1535)"/>
<ellipse cx="540" cy="1540" rx="45" ry="80" transform="rotate(-25 540 1540)" stroke-width="16"/>
<path d="M0,380 L360,650" stroke-width="22"/>
<path d="M1030,1440 L1200,1715" stroke-width="22"/>
</g>
<g transform="translate(880,1025) scale(0.098765)" fill="none" stroke="#2a231e" stroke-width="34" stroke-linejoin="round" stroke-linecap="round">
<path d="M960,330 Q1000,180 1100,130 Q1200,100 1290,150 Q1360,220 1355,320 Q1340,420 1260,460 Q1200,480 1160,440 L1150,400"/>
<path d="M1300,220 Q1340,300 1290,390" stroke-width="22"/>
<path d="M1110,200 Q1200,220 1230,330 L1180,430" stroke-width="26"/>
<path d="M960,330 L1000,400 L1010,460 L1060,530 L1130,470"/>
<path d="M1100,300 L1140,290" stroke-width="22"/>
<path d="M1040,510 L1000,560 L940,600 L730,640 L690,560 L630,360 Q680,320 670,270 L600,225 L520,205 Q470,260 480,310 L540,420 L590,700 L640,760 L880,840 L930,950"/>
<path d="M630,500 L680,520 M700,650 L740,640 M820,660 L840,700" stroke-width="22"/>
<path d="M1220,520 L1240,570 L1360,620 Q1440,680 1440,780 L1420,1000 L1390,1110 L1380,1290 L920,1440 L860,1470 L670,1760 L610,1840 Q560,1890 480,1880 L420,1780"/>
<path d="M780,1120 L600,1180 Q520,1200 460,1260 L330,1500 L260,1560 Q180,1570 140,1650 L160,1800 Q200,1880 290,1860 L360,1830 L420,1780"/>
<ellipse cx="890" cy="1050" rx="125" ry="80"/>
<path d="M1020,1000 L1330,1030 M1030,1100 L1380,1100" stroke-width="26"/>
<path d="M780,1120 L1020,1100"/>
<path d="M600,1700 L660,1350 L720,1280 L1000,1130" stroke-width="30"/>
<path d="M1000,860 Q1010,950 1060,930 L1080,860 M1160,680 L1130,880 M1220,700 L1190,880 M1280,720 L1240,900 M1380,850 L1340,920 M1000,620 L1040,700 L1080,620 M1040,700 L1040,780 M1150,860 L1180,900 L1150,950 M1110,1180 L1180,1220 L1120,1290" stroke-width="20"/>
<path d="M560,1320 L620,1380 L560,1440 L600,1560 M830,1380 L900,1400" stroke-width="26"/>
<path d="M170,1620 Q150,1720 210,1800 L300,1790 L320,1660 Q300,1600 240,1590 Z" stroke-width="22"/>
<path d="M430,1660 L450,1820 L560,1850 L580,1790 L540,1640 Q480,1610 430,1660 Z" stroke-width="22"/>
<path d="M1450,300 L1620,300" stroke-width="22"/>
<path d="M1010,1480 L750,2025" stroke-width="22"/>
</g>
<path d="M538.6,1062.4 L600,1105 M1040,1054.6 L1146,1057 M516,556 L514,600" fill="none" stroke="#2a231e" stroke-width="2.2" stroke-linecap="round"/>

<text x="428.8" y="273.1" text-anchor="middle" font-size="20.72" font-weight="bold" font-style="normal" fill="#fdfdfb" textLength="122.2" lengthAdjust="spacingAndGlyphs">COMPLETED</text>
<text x="429.1" y="296.3" text-anchor="middle" font-size="20.72" font-weight="bold" font-style="normal" fill="#fdfdfb" textLength="92.2" lengthAdjust="spacingAndGlyphs">CO-PILOT</text>
<text x="428.8" y="319.5" text-anchor="middle" font-size="20.72" font-weight="bold" font-style="normal" fill="#fdfdfb" textLength="105.4" lengthAdjust="spacingAndGlyphs">ASSEMBLY</text>
<text x="1163.0" y="263.0" text-anchor="middle" font-size="18.26" font-weight="bold" font-style="normal" fill="#2a231e" textLength="19.6" lengthAdjust="spacingAndGlyphs">71</text>
<text x="1164.0" y="285.2" text-anchor="middle" font-size="20.00" font-weight="bold" font-style="normal" fill="#2a231e" textLength="201.2" lengthAdjust="spacingAndGlyphs">COCKPIT BULKHEAD</text>
<text x="1165.2" y="307.4" text-anchor="middle" font-size="16.09" font-weight="normal" font-style="italic" fill="#2a231e" textLength="152.0" lengthAdjust="spacingAndGlyphs" fill-opacity="0.82">CHROMATE GREEN</text>
<text x="1165.2" y="329.6" text-anchor="middle" font-size="16.09" font-weight="normal" font-style="italic" fill="#2a231e" textLength="61.9" lengthAdjust="spacingAndGlyphs" fill-opacity="0.82">PRIMER</text>
<text x="335.7" y="852.8" text-anchor="middle" font-size="18.41" font-weight="bold" font-style="normal" fill="#2a231e" textLength="22.1" lengthAdjust="spacingAndGlyphs">39</text>
<text x="335.6" y="875.1" text-anchor="middle" font-size="19.71" font-weight="bold" font-style="normal" fill="#2a231e" textLength="160.5" lengthAdjust="spacingAndGlyphs">COCKPIT FLOOR</text>
<text x="336.9" y="897.7" text-anchor="middle" font-size="16.67" font-weight="normal" font-style="italic" fill="#2a231e" textLength="150.9" lengthAdjust="spacingAndGlyphs" fill-opacity="0.82">CHROMATE GREEN</text>
<text x="336.9" y="919.9" text-anchor="middle" font-size="16.67" font-weight="normal" font-style="italic" fill="#2a231e" textLength="60.8" lengthAdjust="spacingAndGlyphs" fill-opacity="0.82">PRIMER</text>
<text x="1155.0" y="831.5" text-anchor="middle" font-size="21.30" font-weight="bold" font-style="normal" fill="#fdfdfb" textLength="121.9" lengthAdjust="spacingAndGlyphs">COMPLETED</text>
<text x="1155.2" y="855.1" text-anchor="middle" font-size="21.30" font-weight="bold" font-style="normal" fill="#fdfdfb" textLength="56.4" lengthAdjust="spacingAndGlyphs">PILOT</text>
<text x="1154.7" y="878.2" text-anchor="middle" font-size="20.58" font-weight="bold" font-style="normal" fill="#fdfdfb" textLength="105.6" lengthAdjust="spacingAndGlyphs">ASSEMBLY</text>
<text x="316.8" y="1041.7" text-anchor="middle" font-size="20.72" font-weight="bold" font-style="normal" fill="#fdfdfb" textLength="151.3" lengthAdjust="spacingAndGlyphs">NOTE: FIGURES</text>
<text x="316.4" y="1064.1" text-anchor="middle" font-size="20.72" font-weight="bold" font-style="normal" fill="#fdfdfb" textLength="147.1" lengthAdjust="spacingAndGlyphs">ARE OPTIONAL</text>
<text x="543.1" y="1055.1" text-anchor="middle" font-size="19.42" font-weight="normal" font-style="normal" fill="#2a231e" textLength="92.4" lengthAdjust="spacingAndGlyphs" stroke="#2a231e" stroke-width="0.8">CO-PILOT</text>
<text x="1182.5" y="1065.9" text-anchor="middle" font-size="19.28" font-weight="normal" font-style="normal" fill="#2a231e" textLength="56.4" lengthAdjust="spacingAndGlyphs" stroke="#2a231e" stroke-width="0.8">PILOT</text>
<text x="415.8" y="1604.8" text-anchor="middle" font-size="18.41" font-weight="bold" font-style="normal" fill="#2a231e" textLength="19.6" lengthAdjust="spacingAndGlyphs">81</text>
<text x="416.8" y="1626.9" text-anchor="middle" font-size="19.57" font-weight="bold" font-style="normal" fill="#2a231e" textLength="213.5" lengthAdjust="spacingAndGlyphs">FORWARD BULKHEAD</text>
<text x="417.9" y="1649.6" text-anchor="middle" font-size="17.54" font-weight="normal" font-style="italic" fill="#2a231e" textLength="152.3" lengthAdjust="spacingAndGlyphs" fill-opacity="0.82">CHROMATE GREEN</text>
<text x="417.9" y="1671.6" text-anchor="middle" font-size="16.52" font-weight="normal" font-style="italic" fill="#2a231e" textLength="60.0" lengthAdjust="spacingAndGlyphs" fill-opacity="0.82">PRIMER</text>
<text x="192.1" y="1908.7" text-anchor="middle" font-size="17.83" font-weight="bold" font-style="normal" fill="#2a231e" textLength="21.0" lengthAdjust="spacingAndGlyphs">83</text>
<text x="192.4" y="1931.0" text-anchor="middle" font-size="19.57" font-weight="bold" font-style="normal" fill="#2a231e" textLength="79.2" lengthAdjust="spacingAndGlyphs">TURRET</text>
<text x="195.9" y="1953.3" text-anchor="middle" font-size="19.57" font-weight="bold" font-style="normal" fill="#2a231e" textLength="150.8" lengthAdjust="spacingAndGlyphs">COMPARTMENT</text>
<text x="195.6" y="1975.6" text-anchor="middle" font-size="19.57" font-weight="bold" font-style="normal" fill="#2a231e" textLength="66.9" lengthAdjust="spacingAndGlyphs">FLOOR</text>
<text x="193.9" y="1997.9" text-anchor="middle" font-size="17.83" font-weight="normal" font-style="italic" fill="#2a231e" textLength="152.9" lengthAdjust="spacingAndGlyphs" fill-opacity="0.82">CHROMATE GREEN</text>
<text x="193.5" y="2019.6" text-anchor="middle" font-size="17.10" font-weight="normal" font-style="italic" fill="#2a231e" textLength="60.7" lengthAdjust="spacingAndGlyphs" fill-opacity="0.82">PRIMER</text>
<text x="871.0" y="1601.0" text-anchor="middle" font-size="20.58" font-weight="bold" font-style="normal" fill="#fdfdfb" textLength="121.3" lengthAdjust="spacingAndGlyphs">COMPLETED</text>
<text x="871.3" y="1624.6" text-anchor="middle" font-size="20.58" font-weight="bold" font-style="normal" fill="#fdfdfb" textLength="87.2" lengthAdjust="spacingAndGlyphs">COCKPIT</text>
<text x="871.3" y="1647.1" text-anchor="middle" font-size="19.71" font-weight="bold" font-style="normal" fill="#fdfdfb" textLength="105.1" lengthAdjust="spacingAndGlyphs">ASSEMBLY</text>
<text x="783.7" y="1983.8" text-anchor="middle" font-size="17.54" font-weight="normal" font-style="normal" fill="#2a231e" textLength="31.3" lengthAdjust="spacingAndGlyphs" stroke="#2a231e" stroke-width="0.8">107</text>
<text x="784.4" y="2006.5" text-anchor="middle" font-size="18.55" font-weight="normal" font-style="normal" fill="#2a231e" textLength="176.2" lengthAdjust="spacingAndGlyphs" stroke="#2a231e" stroke-width="0.8">NOSE GEAR WELL</text>
<text x="784.3" y="2030.0" text-anchor="middle" font-size="19.57" font-weight="normal" font-style="normal" fill="#2a231e" textLength="231.6" lengthAdjust="spacingAndGlyphs" stroke="#2a231e" stroke-width="0.8">(RETRACTED POSITION)</text>
<text x="1246.0" y="1629.4" text-anchor="middle" font-size="16.81" font-weight="bold" font-style="normal" fill="#2a231e" textLength="21.1" lengthAdjust="spacingAndGlyphs">53</text>
<text x="1246.3" y="1652.1" text-anchor="middle" font-size="18.70" font-weight="bold" font-style="normal" fill="#2a231e" textLength="182.5" lengthAdjust="spacingAndGlyphs">CONTROL WHEELS</text>
<text x="1247.0" y="1674.2" text-anchor="middle" font-size="16.96" font-weight="normal" font-style="italic" fill="#2a231e" textLength="96.2" lengthAdjust="spacingAndGlyphs" fill-opacity="0.82">FLAT BLACK</text>
<text x="1361.4" y="1850.6" text-anchor="middle" font-size="18.55" font-weight="bold" font-style="normal" fill="#2a231e" textLength="21.7" lengthAdjust="spacingAndGlyphs">45</text>
<text x="1362.2" y="1872.8" text-anchor="middle" font-size="19.42" font-weight="bold" font-style="normal" fill="#2a231e" textLength="113.4" lengthAdjust="spacingAndGlyphs">YOKE LOCK</text>
<text x="1362.8" y="1895.0" text-anchor="middle" font-size="16.96" font-weight="normal" font-style="italic" fill="#2a231e" textLength="152.5" lengthAdjust="spacingAndGlyphs" fill-opacity="0.82">CHROMATE GREEN</text>
<text x="1362.5" y="1917.2" text-anchor="middle" font-size="16.81" font-weight="normal" font-style="italic" fill="#2a231e" textLength="60.9" lengthAdjust="spacingAndGlyphs" fill-opacity="0.82">PRIMER</text>
<text x="1109.3" y="1934.2" text-anchor="middle" font-size="19.28" font-weight="bold" font-style="normal" fill="#2a231e" textLength="21.6" lengthAdjust="spacingAndGlyphs">32</text>
<text x="1109.0" y="1955.9" text-anchor="middle" font-size="19.28" font-weight="bold" font-style="normal" fill="#2a231e" textLength="186.6" lengthAdjust="spacingAndGlyphs">CONTROL COLUMN</text>
<text x="1109.7" y="1977.9" text-anchor="middle" font-size="16.67" font-weight="normal" font-style="italic" fill="#2a231e" textLength="96.0" lengthAdjust="spacingAndGlyphs" fill-opacity="0.82">FLAT BLACK</text>
</svg></body></html>
